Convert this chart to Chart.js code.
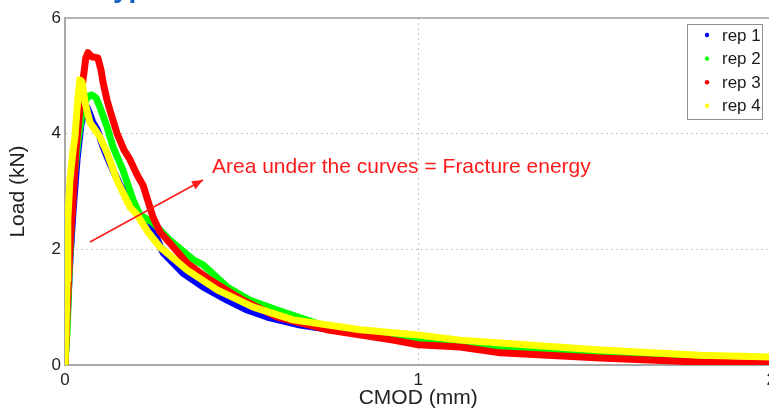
<!DOCTYPE html>
<html>
<head>
<meta charset="utf-8">
<script src="https://cdn.jsdelivr.net/npm/chart.js@4.4.1/dist/chart.umd.min.js"></script>
<style>
  html, body { margin: 0; padding: 0; overflow: hidden; background: #fff; }
  #wrap { position: relative; width: 781px; height: 412px; }
</style>
</head>
<body>
<div id="wrap"><canvas id="c"></canvas></div>
<script>
// ---- data (CMOD in mm, Load in kN) ----
const seriesNames = ['rep 1', 'rep 2', 'rep 3', 'rep 4'];
const seriesColors = ['#0000ff', '#00ff00', '#ff0000', '#ffff00'];

const rep1X = [0, 0.006, 0.014, 0.023, 0.034, 0.045, 0.054, 0.062, 0.071, 0.079, 0.091, 0.108, 0.127, 0.156, 0.198, 0.249, 0.278, 0.334, 0.391, 0.459, 0.516, 0.572, 0.666, 0.807, 1.0, 1.2, 1.5, 1.7];
const rep1Y = [0, 0.78, 1.82, 2.68, 3.55, 4.15, 4.38, 4.46, 4.33, 4.19, 4.07, 3.77, 3.49, 3.11, 2.68, 2.34, 1.94, 1.59, 1.35, 1.12, 0.95, 0.83, 0.69, 0.56, 0.48, 0.37, 0.25, 0.18];

const rep2X = [0, 0.006, 0.011, 0.017, 0.025, 0.037, 0.048, 0.059, 0.068, 0.076, 0.088, 0.099, 0.119, 0.136, 0.164, 0.193, 0.212, 0.249, 0.297, 0.363, 0.391, 0.459, 0.524, 0.601, 0.742, 0.929, 1.0, 1.232, 1.516, 1.799, 1.827, 1.85];
const rep2Y = [0, 0.6, 1.47, 2.34, 3.2, 3.89, 4.33, 4.58, 4.65, 4.67, 4.62, 4.46, 4.12, 3.77, 3.37, 2.85, 2.6, 2.46, 2.16, 1.82, 1.73, 1.35, 1.12, 0.95, 0.66, 0.48, 0.43, 0.29, 0.19, 0.09, 0.02, 0.0];

const rep3X = [0, 0.003, 0.006, 0.014, 0.023, 0.031, 0.042, 0.051, 0.059, 0.065, 0.076, 0.093, 0.102, 0.108, 0.119, 0.127, 0.147, 0.167, 0.184, 0.204, 0.221, 0.249, 0.269, 0.297, 0.346, 0.411, 0.504, 0.601, 0.742, 0.929, 1.0, 1.119, 1.232, 1.516, 1.799, 2.0];
const rep3Y = [0, 0.43, 0.95, 2.04, 2.85, 3.72, 4.41, 4.93, 5.31, 5.40, 5.33, 5.31, 5.10, 4.88, 4.58, 4.41, 4.01, 3.72, 3.55, 3.29, 3.11, 2.56, 2.30, 2.11, 1.76, 1.47, 1.12, 0.83, 0.61, 0.43, 0.35, 0.31, 0.21, 0.12, 0.05, 0.03];

const rep4X = [0, 0.003, 0.006, 0.008, 0.014, 0.023, 0.028, 0.037, 0.042, 0.048, 0.057, 0.071, 0.085, 0.099, 0.119, 0.147, 0.184, 0.204, 0.235, 0.269, 0.346, 0.431, 0.533, 0.646, 0.836, 1.0, 1.119, 1.232, 1.516, 1.799, 2.0];
const rep4Y = [0, 0.6, 1.47, 2.51, 3.2, 3.72, 3.94, 4.64, 4.93, 4.9, 4.53, 4.19, 4.07, 3.94, 3.67, 3.2, 2.73, 2.6, 2.30, 2.04, 1.64, 1.30, 1.0, 0.78, 0.61, 0.52, 0.43, 0.38, 0.26, 0.17, 0.14];

const xTicks = [0, 1, 2];
const yTicks = [0, 2, 4, 6];
const xTitle = 'CMOD (mm)';
const yTitle = 'Load (kN)';
const noteText = 'Area under the curves = Fracture energy';
const headerText = 'Typical curves';

// ---- build datasets ----
const xs = [rep1X, rep2X, rep3X, rep4X];
const ys = [rep1Y, rep2Y, rep3Y, rep4Y];
const datasets = seriesNames.map((name, i) => ({
  label: name,
  data: xs[i].map((x, k) => ({ x: x, y: ys[i][k] })),
  borderColor: seriesColors[i],
  backgroundColor: seriesColors[i],
  borderWidth: 7,
  pointRadius: 0,
  showLine: true,
  tension: 0,
  borderJoinStyle: 'round',
  borderCapStyle: 'round',
  order: 4 - i
}));

const FONT = 'Liberation Sans, Arial, sans-serif';

const decor = {
  id: 'decor',
  afterDraw(chart) {
    const ctx = chart.ctx;
    const a = chart.chartArea;
    ctx.save();
    // top frame line
    ctx.strokeStyle = '#b4b4b4';
    ctx.lineWidth = 2;
    ctx.beginPath();
    ctx.moveTo(a.left, a.top);
    ctx.lineTo(a.right, a.top);
    ctx.stroke();

    // header (cut off at the top)
    ctx.fillStyle = '#1461bd';
    ctx.font = 'bold 28px ' + FONT;
    ctx.textBaseline = 'alphabetic';
    ctx.textAlign = 'left';
    ctx.fillText(headerText, 98, -3);

    // annotation arrow
    const x0 = 90, y0 = 242, x1 = 203, y1 = 180;
    ctx.strokeStyle = '#ff1a1a';
    ctx.fillStyle = '#ff1a1a';
    ctx.lineWidth = 1.5;
    ctx.beginPath();
    ctx.moveTo(x0, y0);
    ctx.lineTo(x1, y1);
    ctx.stroke();
    const ang = Math.atan2(y1 - y0, x1 - x0);
    const hl = 11, hw = 4.5;
    ctx.beginPath();
    ctx.moveTo(x1, y1);
    ctx.lineTo(x1 - hl * Math.cos(ang) + hw * Math.sin(ang), y1 - hl * Math.sin(ang) - hw * Math.cos(ang));
    ctx.lineTo(x1 - hl * Math.cos(ang) - hw * Math.sin(ang), y1 - hl * Math.sin(ang) + hw * Math.cos(ang));
    ctx.closePath();
    ctx.fill();

    // annotation text
    ctx.font = '21px ' + FONT;
    ctx.fillStyle = '#ff1a1a';
    ctx.fillText(noteText, 212, 173);

    // legend box
    const bx = 687, by = 24, bw = 75, bh = 95;
    ctx.fillStyle = '#ffffff';
    ctx.fillRect(bx, by, bw, bh);
    ctx.strokeStyle = '#909090';
    ctx.lineWidth = 1;
    ctx.strokeRect(bx + 0.5, by + 0.5, bw, bh);
    ctx.font = '17px ' + FONT;
    ctx.textBaseline = 'middle';
    chart.data.datasets.forEach((ds, i) => {
      const cy = 35 + i * 23.6;
      ctx.fillStyle = ds.borderColor;
      ctx.beginPath();
      ctx.arc(707, cy, 2.2, 0, Math.PI * 2);
      ctx.fill();
      ctx.fillStyle = '#1a1a1a';
      ctx.fillText(ds.label, 722, cy + 1);
    });
    ctx.restore();
  }
};

new Chart(document.getElementById('c'), {
  type: 'scatter',
  data: { datasets: datasets },
  options: {
    responsive: true,
    maintainAspectRatio: false,
    animation: false,
    layout: { padding: { top: 18, right: 0, left: 0, bottom: 0 } },
    plugins: { legend: { display: false }, tooltip: { enabled: false } },
    scales: {
      x: {
        type: 'linear',
        min: 0, max: 2,
        afterBuildTicks(scale) { scale.ticks = xTicks.map(v => ({ value: v })); },
        afterFit(scale) { scale.height = 47; },
        ticks: { color: '#222', font: { family: FONT, size: 17 }, padding: 5, maxRotation: 0 },
        grid: { color: '#c8c8c8', drawTicks: false, lineWidth: 1 },
        border: { color: '#a8a8a8', width: 2, dash: [2, 3] },
        title: { display: true, text: xTitle, color: '#222', font: { family: FONT, size: 21 }, padding: { top: 2, bottom: 1 } }
      },
      y: {
        type: 'linear',
        min: 0, max: 6,
        afterBuildTicks(scale) { scale.ticks = yTicks.map(v => ({ value: v })); },
        afterFit(scale) { scale.width = 65; },
        ticks: { color: '#222', font: { family: FONT, size: 17 }, padding: 4 },
        grid: { color: '#c8c8c8', drawTicks: false, lineWidth: 1 },
        border: { color: '#a8a8a8', width: 2, dash: [2, 3] },
        title: { display: true, text: yTitle, color: '#222', font: { family: FONT, size: 21 }, padding: { top: 6, bottom: 5 } }
      }
    }
  },
  plugins: [decor]
});
</script>
</body>
</html>
